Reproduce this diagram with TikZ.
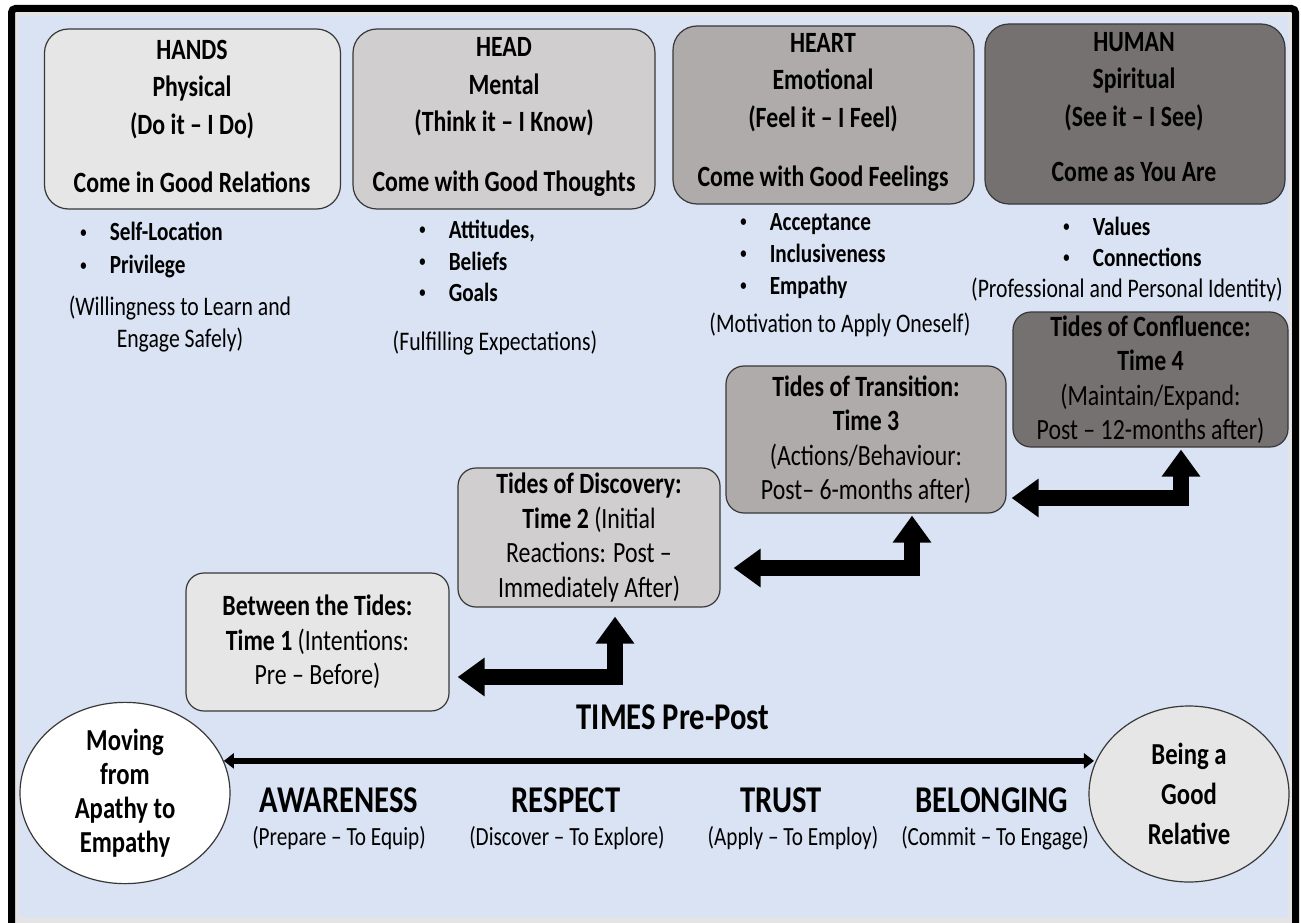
\documentclass[tikz,border=0pt]{standalone}
\usepackage{fontspec}
\setmainfont{Carlito}[FakeStretch=0.81]
\usetikzlibrary{arrows.meta,calc,shapes.geometric}

\definecolor{bgblue}{HTML}{DAE3F3}
\definecolor{bandgray}{HTML}{E4E4E6}
\definecolor{toneA}{HTML}{E7E6E6}
\definecolor{toneB}{HTML}{D0CECE}
\definecolor{toneC}{HTML}{AFABAB}
\definecolor{toneD}{HTML}{767171}
\definecolor{boxline}{HTML}{383838}

\newcommand{\setfs}[2]{\fontsize{#1}{#2}\selectfont}
% small list bullet, centred in a fixed-width cell
\newcommand{\listdot}{\makebox[10.6pt]{\raisebox{3.8pt}{\fontsize{15.5}{15.5}\selectfont •}}}

\begin{document}
\begin{tikzpicture}[x=1pt,y=-1pt,
  panel/.style={draw=boxline, line width=1.2pt, rounded corners=24pt, inner sep=0pt},
  tidebox/.style={draw=boxline, line width=1.2pt, rounded corners=18pt, inner sep=0pt,
    align=center, font=\setfs{29.4}{34.5}},
  headtxt/.style={align=center, inner sep=0pt, font=\bfseries\setfs{29.4}{37.5}},
  bullist/.style={anchor=north west, inner sep=0pt, font=\bfseries\setfs{26.2}{32}},
  note/.style={align=center, inner sep=0pt, font=\setfs{26.8}{32}},
  bigword/.style={inner sep=0pt, font=\bfseries\setfs{37.8}{40}},
  subword/.style={inner sep=0pt, font=\setfs{26.2}{30}},
  roundtxt/.style={ellipse, draw=boxline, line width=1.2pt, inner sep=0pt,
    align=center, font=\bfseries\setfs{30.5}{34}},
  blockarrow/.style={line width=16pt, line join=miter, draw=black,
    {Triangle[length=27pt,width=37pt]}-{Triangle[length=27pt,width=37pt]}},
  axisarrow/.style={line width=6.5pt, draw=black,
    {Triangle[length=10pt,width=15pt]}-{Triangle[length=10pt,width=15pt]}}
]
\useasboundingbox (0,0) rectangle (1301,923);
\clip (0,0) rectangle (1301,923);

% page, frame and background
\fill[white] (0,0) rectangle (1301,923);
\fill[bandgray] (15,12) rectangle (1292,923);
\fill[bgblue] (19,16) rectangle (1288,917);
\draw[line width=7pt, rounded corners=4pt] (11.5,960) -- (11.5,8.5) -- (1295.5,8.5) -- (1295.5,960);

% the four dimensions
\node[panel, fill=toneA, minimum width=296pt, minimum height=180pt] (hands) at (192.5,119) {};
\node[panel, fill=toneB, minimum width=302pt, minimum height=180pt] (head) at (504,119) {};
\node[panel, fill=toneC, minimum width=301pt, minimum height=178pt] (heart) at (823.5,115) {};
\node[panel, fill=toneD, minimum width=300pt, minimum height=180pt] (human) at (1135,114) {};

\node[headtxt] (handsT) at (192,116) {HANDS\\Physical\\(Do it – I Do)\\[20.5pt]Come in Good Relations};
\node[headtxt] (headT) at (504,117) {HEAD\\Mental\\(Think it – I Know)\\[22pt]Come with Good Thoughts};
\node[headtxt] (heartT) at (823,112.5) {HEART\\Emotional\\(Feel it – I Feel)\\[22pt]Come with Good Feelings};
\node[headtxt] (humanT) at (1134,107) {HUMAN\\Spiritual\\(See it – I See)\\[17.5pt]Come as You Are};

% bullet lists
\node[bullist, font=\bfseries\setfs{26.2}{33}] (handsL) at (78,217.5)
  {\begin{tabular}{@{}l@{\hspace{21pt}}l@{}}\listdot&Self-Location\\\listdot&Privilege\end{tabular}};
\node[bullist, font=\bfseries\setfs{26.2}{31.5}] (headL) at (417,216.5)
  {\begin{tabular}{@{}l@{\hspace{21pt}}l@{}}\listdot&Attitudes,\\\listdot&Beliefs\\\listdot&Goals\end{tabular}};
\node[bullist] (heartL) at (738,208)
  {\begin{tabular}{@{}l@{\hspace{21pt}}l@{}}\listdot&Acceptance\\\listdot&Inclusiveness\\\listdot&Empathy\end{tabular}};
\node[bullist, font=\bfseries\setfs{26.2}{31}] (humanL) at (1061,213.8)
  {\begin{tabular}{@{}l@{\hspace{21pt}}l@{}}\listdot&Values\\\listdot&Connections\end{tabular}};

% notes under the lists
\node[note] (handsN) at (180,324) {(Willingness to Learn and\\Engage Safely)};
\node[note] (headN) at (495,343) {(Fulfilling Expectations)};
\node[note] (heartN) at (840,325) {(Motivation to Apply Oneself)};
\node[note] (humanN) at (1127,290) {(Professional and Personal Identity)};

% the tides
\node[tidebox, fill=toneA, minimum width=263pt, minimum height=138pt] (t1) at (317.5,642)
  {\textbf{Between the Tides:}\\\textbf{Time 1} (Intentions:\\Pre – Before)};
\node[tidebox, fill=toneB, minimum width=262pt, minimum height=139pt] (t2) at (589,537.5)
  {\textbf{Tides of Discovery:}\\\textbf{Time 2} (Initial\\Reactions: Post –\\Immediately After)};
\node[tidebox, fill=toneC, minimum width=280pt, minimum height=147pt] (t3) at (866,439.5)
  {\textbf{Tides of Transition:}\\\textbf{Time 3}\\(Actions/Behaviour:\\Post– 6-months after)};
\node[tidebox, fill=toneD, minimum width=275pt, minimum height=135pt] (t4) at (1150.5,379.5)
  {\textbf{Tides of Confluence:}\\\textbf{Time 4}\\(Maintain/Expand:\\Post – 12-months after)};

% bent block arrows between the tides
\draw[blockarrow] ($(t1.east)+(8,35)$) -| ($(t2.south)+(26,9)$);
\draw[blockarrow] ($(t2.east)+(13,30.5)$) -| ($(t3.south)+(46,2)$);
\draw[blockarrow] ($(t3.east)+(5,58.5)$) -| ($(t4.south)+(30.5,2)$);

% the continuum
\node[bigword] (times) at (673,717) {TIMES Pre-Post};
\node[roundtxt, fill=white, minimum width=210pt, minimum height=178pt] (apathy) at (125,793)
  {Moving\\from\\Apathy to\\Empathy};
\node[roundtxt, fill=toneA, minimum width=200pt, minimum height=176pt,
  font=\bfseries\setfs{30.5}{40}] (relative) at (1189,794) {Being a\\Good\\Relative};
\draw[axisarrow] (apathy.18) -- (apathy.18 -| relative.163);

\node[bigword] (aw) at (339,800) {AWARENESS};
\node[subword] (awS) at (339,838) {(Prepare – To Equip)};
\node[bigword] (re) at (566,800) {RESPECT};
\node[subword] (reS) at (567,838) {(Discover – To Explore)};
\node[bigword] (tr) at (781,800) {TRUST};
\node[subword] (trS) at (793,838) {(Apply – To Employ)};
\node[bigword] (be) at (992,800) {BELONGING};
\node[subword] (beS) at (995,838) {(Commit – To Engage)};
\end{tikzpicture}
\end{document}
